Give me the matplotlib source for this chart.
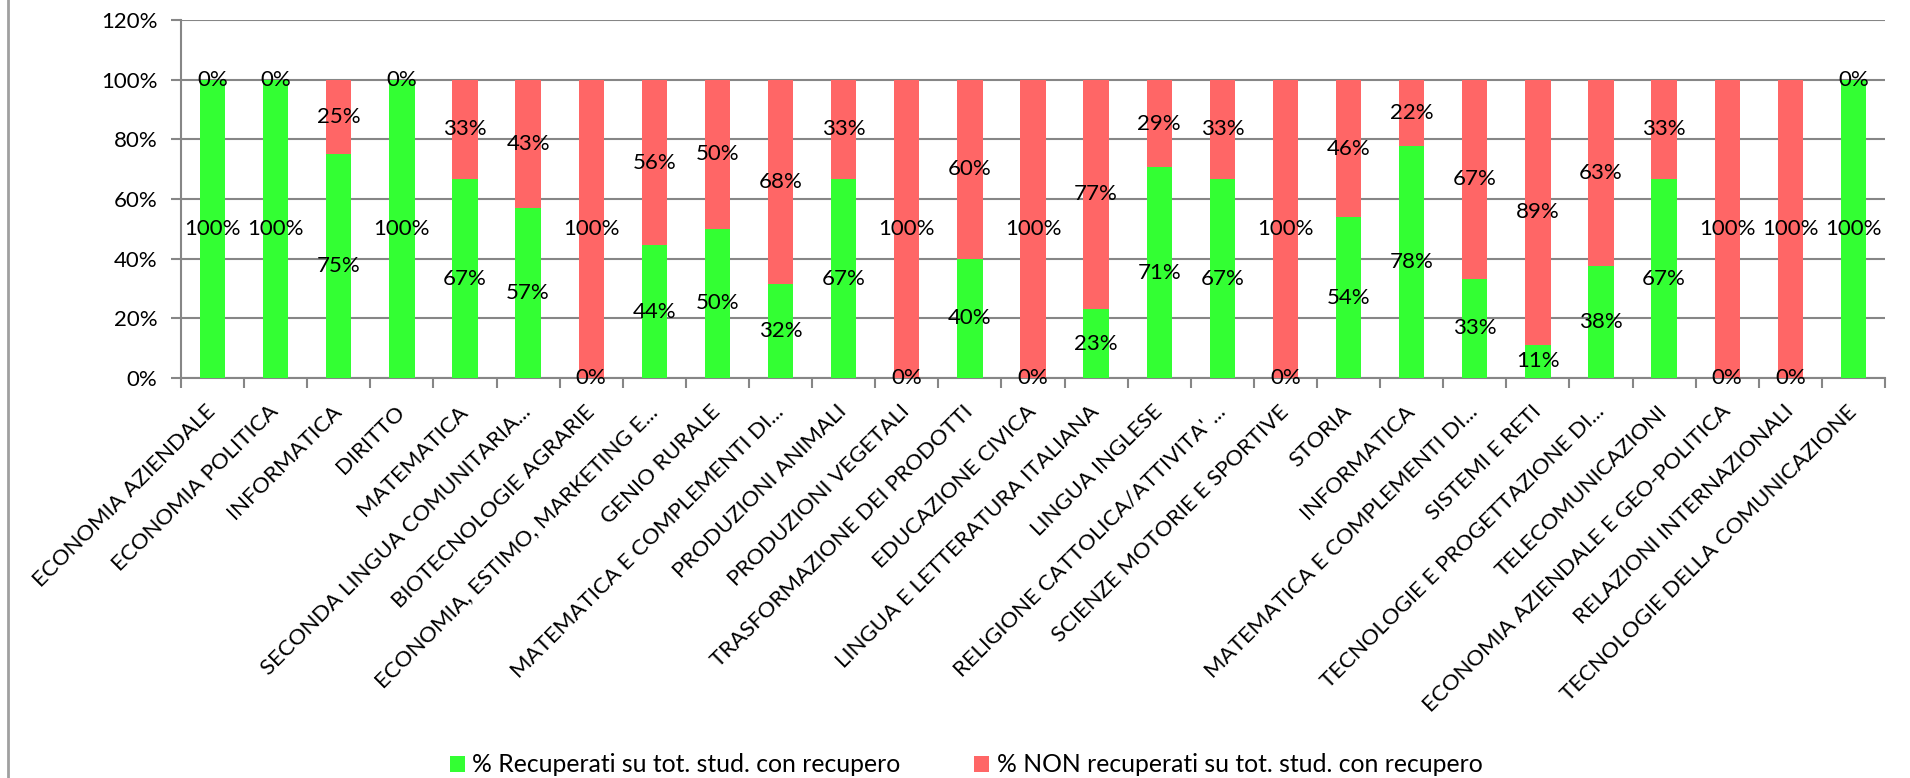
import matplotlib
matplotlib.use("Agg")
import matplotlib.pyplot as plt
from matplotlib.lines import Line2D
from matplotlib.patches import Patch

plt.rcParams['font.family'] = ['Lato', 'DejaVu Sans']

categories = [
    "ECONOMIA AZIENDALE", "ECONOMIA POLITICA", "INFORMATICA", "DIRITTO",
    "MATEMATICA", "SECONDA LINGUA COMUNITARIA...", "BIOTECNOLOGIE AGRARIE",
    "ECONOMIA, ESTIMO, MARKETING E...", "GENIO RURALE",
    "MATEMATICA E COMPLEMENTI DI...", "PRODUZIONI ANIMALI",
    "PRODUZIONI VEGETALI", "TRASFORMAZIONE DEI PRODOTTI", "EDUCAZIONE CIVICA",
    "LINGUA E LETTERATURA ITALIANA", "LINGUA INGLESE",
    "RELIGIONE CATTOLICA/ATTIVITA' ...", "SCIENZE MOTORIE E SPORTIVE", "STORIA",
    "INFORMATICA", "MATEMATICA E COMPLEMENTI DI...", "SISTEMI E RETI",
    "TECNOLOGIE E PROGETTAZIONE DI...", "TELECOMUNICAZIONI",
    "ECONOMIA AZIENDALE E GEO-POLITICA", "RELAZIONI INTERNAZIONALI",
    "TECNOLOGIE DELLA COMUNICAZIONE",
]
recuperati = [100, 100, 75, 100, 66.67, 57.14, 0, 44.44, 50, 31.58, 66.67,
              0, 40, 0, 23.08, 70.59, 66.67, 0, 53.85, 77.78, 33.33, 11.11,
              37.5, 66.67, 0, 0, 100]
non_recuperati = [0, 0, 25, 0, 33.33, 42.86, 100, 55.56, 50, 68.42, 33.33,
                  100, 60, 100, 76.92, 29.41, 33.33, 100, 46.15, 22.22, 66.67,
                  88.89, 62.5, 33.33, 100, 100, 0]
yticks = [0, 20, 40, 60, 80, 100, 120]
legend_labels = ["% Recuperati su tot. stud. con recupero",
                 "% NON recuperati su tot. stud. con recupero"]

GREEN = "#33FF33"
RED = "#FF6666"
GRID = "#868686"
FS = 16
LFS = 17.8


def fmt(v):
    return f"{int(v + 0.5)}%"


fig = plt.figure(figsize=(19.10, 7.78), dpi=100)
ax = fig.add_axes([181 / 1910, 1 - 378 / 778, (1885 - 181) / 1910, (378 - 20) / 778])

x = list(range(len(categories)))
w = 0.4
ax.bar(x, recuperati, width=w, color=GREEN, zorder=3)
ax.bar(x, non_recuperati, width=w, bottom=recuperati, color=RED, zorder=3)

for i, (g, r) in enumerate(zip(recuperati, non_recuperati)):
    ax.text(i, g / 2, fmt(g), ha="center", va="center", fontsize=FS, zorder=5)
    ax.text(i, g + r / 2, fmt(r), ha="center", va="center", fontsize=FS, zorder=5)

ax.set_ylim(0, 120)
ax.set_xlim(-0.5, len(categories) - 0.5)
ax.set_yticks(yticks)
ax.set_yticklabels([f"{t}%" for t in yticks], fontsize=FS)
ax.yaxis.grid(True, color=GRID, linewidth=1.5, zorder=0)
ax.set_axisbelow(True)

ax.set_xticks(x)
ax.set_xticklabels(categories, rotation=45, ha="right", va="center",
                   rotation_mode="anchor", fontsize=FS)
ax.tick_params(axis="x", which="major", length=0, pad=22)
ax.set_xticks([i - 0.5 for i in range(len(categories) + 1)], minor=True)
ax.tick_params(axis="x", which="minor", length=7, width=1.5, color=GRID, direction="out")
ax.tick_params(axis="y", length=7, width=1.5, color=GRID, direction="out", pad=10)

for s in ["top", "right"]:
    ax.spines[s].set_visible(False)
for s in ["left", "bottom"]:
    ax.spines[s].set_color(GRID)
    ax.spines[s].set_linewidth(1.5)

handles = [Patch(facecolor=GREEN), Patch(facecolor=RED)]
fig.legend(handles, legend_labels, loc="center", ncol=2, frameon=False,
           fontsize=LFS, bbox_to_anchor=((455 + 1477) / 2 / 1910, 1 - 765 / 778),
           handlelength=0.6, handleheight=0.6, handletextpad=0.3, columnspacing=3.0,
           borderpad=0.2)

fig.add_artist(Line2D([8 / 1910, 8 / 1910], [0, 1], color="#A0A0A0", linewidth=2,
                      transform=fig.transFigure))

fig.savefig("out.png", dpi=100)
